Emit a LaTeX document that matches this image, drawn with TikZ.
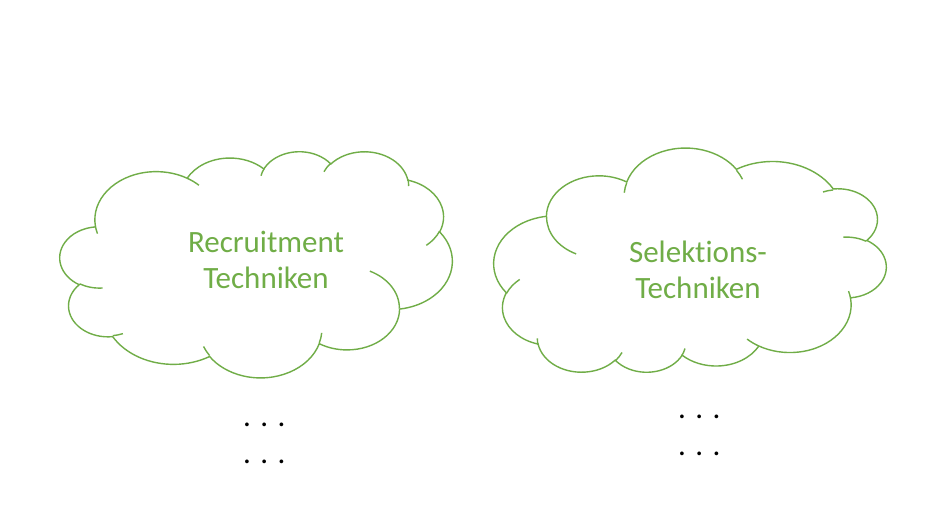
\documentclass[tikz,border=0pt]{standalone}
\usepackage{fontspec}
\setmainfont{Carlito}[Ligatures=NoCommon]
\definecolor{cgreen}{HTML}{70AD47}
% visual (DrawingML) angle -> parametric angle
\newcommand\vang[3]{atan2((#1)*sin(#3),(#2)*cos(#3))}
% point in path units / 100
\newcommand\cpt[2]{({\cox+(#1)*(\cxf)*100},{\coy+(#2)*(\cyf)*100})}
\newcommand\carc[4]{arc[start angle={\cbase-\vang{#1}{#2}{#3}},
  delta angle={-(\vang{#1}{#2}{(#3)+(#4)}-\vang{#1}{#2}{#3}-360*round((\vang{#1}{#2}{(#3)+(#4)}-\vang{#1}{#2}{#3}-(#4))/360))},
  x radius={(#1)*\cxs*1pt}, y radius={(#2)*\cys*1pt}]}
\newcommand\cloudat[7]{\def\cox{#1}\def\coy{#2}\def\cxf{#3}\def\cyf{#4}\def\cxs{#5}\def\cys{#6}\def\cbase{#7}}
\newcommand\cloudouter{\cpt{39.00}{143.70}
  \carc{6753}{9190}{-190.4875}{123.7805}
  \carc{5333}{7267}{-144.1024}{89.9452}
  \carc{4365}{5945}{-145.8079}{99.7230}
  \carc{4857}{6595}{-130.9861}{117.2417}
  \carc{5333}{7273}{-78.7089}{109.0269}
  \carc{6775}{9220}{-46.2673}{130.2690}
  \carc{5785}{7867}{0.6250}{114.0333}
  \carc{6752}{9215}{22.4516}{115.1726}
  \carc{7720}{10543}{66.2426}{75.7110}
  \carc{4360}{5918}{-274.9421}{146.7356}
  \carc{4345}{5945}{-246.8285}{152.5189} -- cycle}
\newcommand\cloudinner{%
  \cpt{46.93}{261.77} \carc{4345}{5945}{86.7420}{26.4295}
  \cpt{69.28}{348.99} \carc{4360}{5918}{73.6105}{11.4475}
  \cpt{164.78}{390.90} \carc{6752}{9215}{137.6242}{14.0811}
  \cpt{288.27}{347.51} \carc{6752}{9215}{6.4533}{15.9984}
  \cpt{341.29}{229.54} \carc{5785}{7867}{-70.2924}{70.9174}
  \cpt{417.98}{153.54} \carc{5333}{7273}{30.3180}{27.7515}
  \cpt{383.24}{54.26} \carc{4857}{6595}{-13.7443}{14.8589}
  \cpt{290.78}{39.52} \carc{4857}{6595}{-149.1815}{18.1954}
  \cpt{221.41}{47.20} \carc{4365}{5945}{-163.4943}{17.6864}
  \cpt{140.00}{51.92} \carc{6753}{9190}{-66.7070}{12.3194}
  \cpt{41.27}{157.89} \carc{6753}{9190}{157.6544}{11.8582}}
\tikzset{
  cloudline/.style={draw=cgreen, line width=1.4pt},
  cloudtext/.style={text=cgreen, font=\fontsize{31}{36}\selectfont, anchor=base, inner sep=0pt},
  dotstext/.style={text=black, font=\fontsize{31}{36}\selectfont, anchor=base, inner sep=0pt}
}
\begin{document}
\begin{tikzpicture}[x=1pt,y=1pt]
\useasboundingbox (0,0) rectangle (930,523);
\fill[white] (0,0) rectangle (930,523);
% left cloud
\cloudat{60}{372}{0.0090741}{-0.0052315}{0.0090741}{0.0052315}{0}
\draw[cloudline, fill=white] \cloudouter;
\draw[cloudline] \cloudinner;
% right cloud (rotated 180 degrees)
\cloudat{886}{150}{-0.0090741}{0.0051852}{0.0090741}{0.0051852}{180}
\draw[cloudline, fill=white] \cloudouter;
\draw[cloudline] \cloudinner;
% texts
\node[cloudtext] (r1) at (266,270.7) {Recruitment};
\node[cloudtext] (r2) at (266,234.7) {Techniken};
\node[cloudtext] (s1) at (698,260.7) {Selektions-};
\node[cloudtext] (s2) at (698,224.7) {Techniken};
\node[dotstext] (d1) at (264.3,97) {. . .};
\node[dotstext] (d2) at (264.3,59.7) {. . .};
\node[dotstext] (d3) at (699.3,105) {. . .};
\node[dotstext] (d4) at (699.3,67.7) {. . .};
\end{tikzpicture}
\end{document}
